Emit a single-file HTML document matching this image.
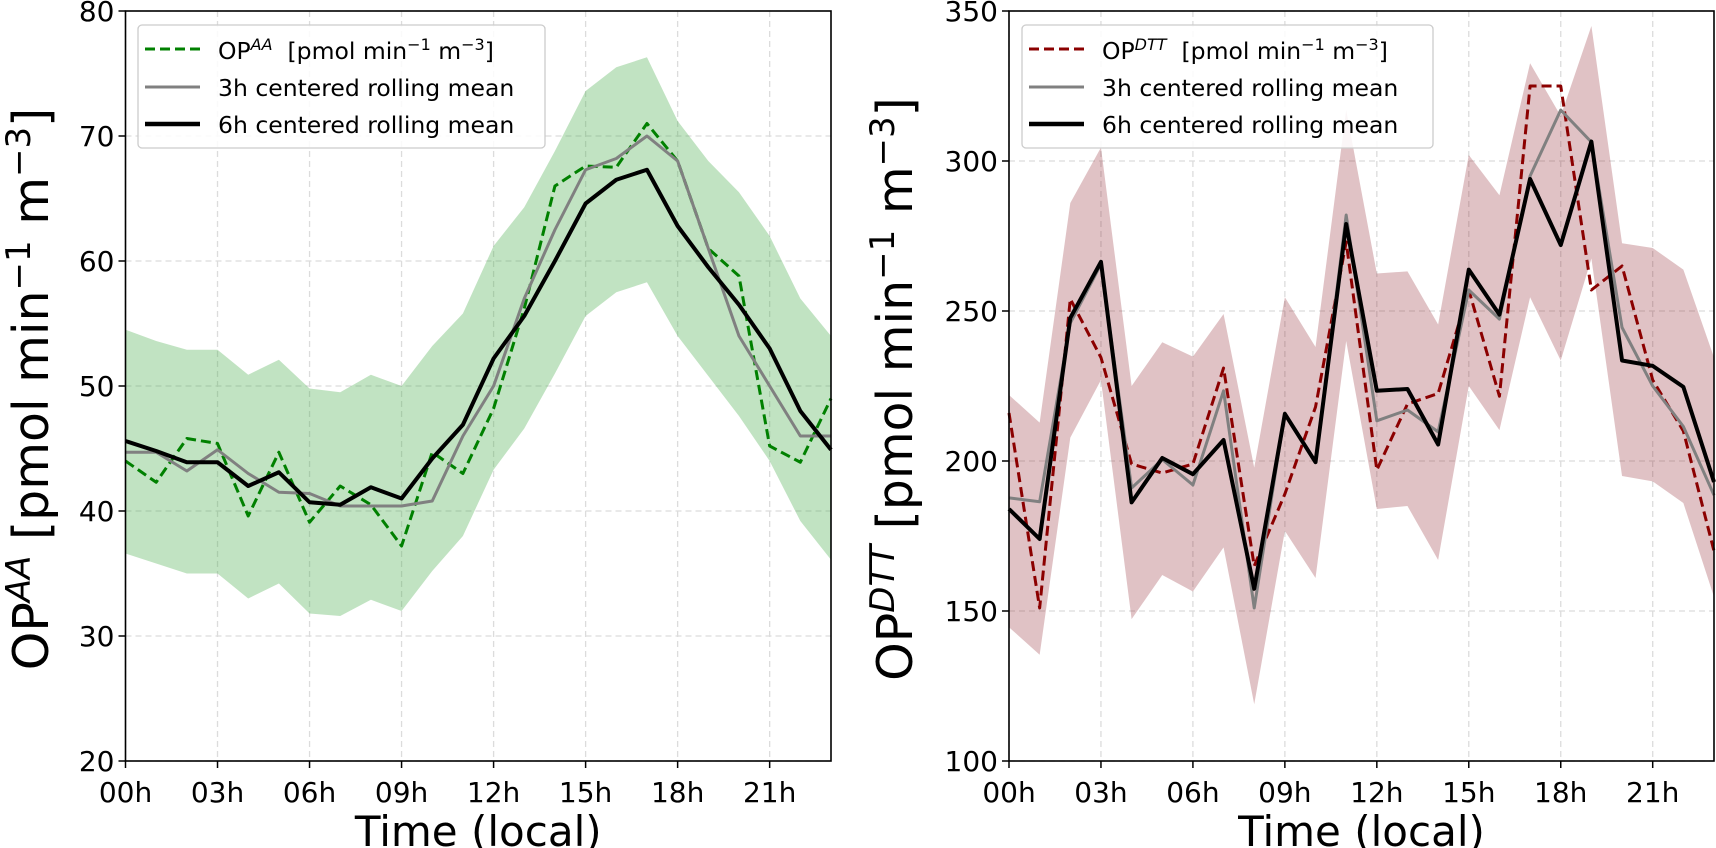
<!DOCTYPE html>
<html><head><meta charset="utf-8"><style>
body{margin:0;background:#fff}
svg{display:block;font-family:"DejaVu Sans","Liberation Sans",sans-serif}
</style></head><body>
<svg id="chart" width="1716" height="848" viewBox="0 0 1716 848" xmlns="http://www.w3.org/2000/svg"></svg>
<script>
const hours = [0,1,2,3,4,5,6,7,8,9,10,11,12,13,14,15,16,17,18,19,20,21,22,23];
const xTickHours = [0,3,6,9,12,15,18,21];
const xTickLabels = ["00h","03h","06h","09h","12h","15h","18h","21h"];
// Left panel (OP AA)
const aaTicks = [20,30,40,50,60,70,80];
const aaRaw = [44,42.3,45.8,45.4,39.6,44.7,39.1,42.0,40.5,37.2,44.7,43.0,48.2,56.2,66,67.6,67.5,71,68,61,58.8,45.2,43.9,49];
const aa3h = [44.7,44.7,43.2,44.9,43,41.5,41.4,40.4,40.4,40.4,40.8,46,50,57,62.5,67.3,68.2,70,68,61,54,50,46,46];
const aa6h = [45.6,44.8,43.9,43.9,42,43.1,40.7,40.5,41.9,41,44.2,46.9,52.2,55.6,60,64.6,66.5,67.3,62.8,59.5,56.5,53,48,44.9];
const aaUpper = [54.5,53.6,52.9,52.9,50.9,52.1,49.8,49.5,50.9,50,53.2,55.8,61.2,64.3,68.8,73.6,75.5,76.3,71.2,68,65.5,62,57,54];
const aaLower = [36.6,35.8,35,35,33,34.2,31.8,31.6,32.9,32,35.2,38,43.3,46.6,51,55.6,57.5,58.3,54,50.8,47.6,44,39.2,36.1];
// Right panel (OP DTT)
const dttTicks = [100,150,200,250,300,350];
const dttRaw = [216,151,254,234.5,199,196,199,231,165,189,218,273,197,219,222.5,257,221.6,325,325,257,265,227,210,170];
const dtt3h = [187.7,186.4,246,265.6,191,200.5,192,223.4,151,216,199.6,282,213.4,217,209.7,257,247.3,295,317,306.3,244.5,225,211.5,188.6];
const dtt6h = [184,174,247.7,266.4,186.2,201,195.6,207,157.4,215.7,199.6,279,223.4,224,205.5,263.8,248.8,294,272,306.5,233.5,231.7,224.7,193];
const dttUpper = [222,212.8,286,304.5,225,239.6,234.8,249,197.8,254.6,238,317,262.5,263.2,245.5,302,288.6,332.6,315,345,272.6,271,263.8,234.5];
const dttLower = [144.6,135.4,207.8,227,147.3,162,156.5,171.2,118.9,176.7,161,240,184,185,167,225,210.3,254.6,233.5,267.5,195,193.2,186,154.7];

const NS="http://www.w3.org/2000/svg";
const svg=document.getElementById('chart');
function mk(tag,attrs,parent){const e=document.createElementNS(NS,tag);for(const k in attrs)e.setAttribute(k,attrs[k]);(parent||svg).appendChild(e);return e;}

function panel(cfg){
  const g=mk('g',{});
  
  
  const L=cfg.left,R=cfg.right,T=11,B=761;
  const ymin=cfg.ticks[0],ymax=cfg.ticks[cfg.ticks.length-1];
  const xs=h=>L+(R-L)*h/23;
  const ys=v=>B-(B-T)*(v-ymin)/(ymax-ymin);
  xTickHours.forEach(h=>{const l=mk('line',{x1:xs(h),x2:xs(h),y1:T,y2:B,stroke:'#dcdcdc','stroke-width':1.3,'stroke-dasharray':'6 4'},g);
    
    });
  cfg.ticks.forEach(v=>{const l=mk('line',{x1:L,x2:R,y1:ys(v),y2:ys(v),stroke:'#dcdcdc','stroke-width':1.3,'stroke-dasharray':'6 4'},g);
    
    });
  let d='M'+hours.map((h,i)=>xs(h)+','+ys(cfg.upper[i])).join(' L');
  d+=' L'+hours.slice().reverse().map(h=>xs(h)+','+ys(cfg.lower[h])).join(' L')+'Z';
  const band=mk('path',{d:d,fill:cfg.band,stroke:'none'},g);
  
  
  const line=(arr,col,w,dash,name)=>{const p=mk('polyline',{points:hours.map((h,i)=>xs(h)+','+ys(arr[i])).join(' '),fill:'none',stroke:col,'stroke-width':w,'stroke-linejoin':'round'},g);
    if(dash)p.setAttribute('stroke-dasharray',dash);
    
    };
  line(cfg.raw,cfg.col,3,'10 5',cfg.rawName);
  line(cfg.m3,'#808080',3,null,'rolling-mean-3h');
  line(cfg.m6,'#000',4,null,'rolling-mean-6h');
  const fr=mk('rect',{x:L,y:T,width:R-L,height:B-T,fill:'none',stroke:'#000','stroke-width':1.6},g);
  
  
  xTickHours.forEach((h,i)=>{mk('line',{x1:xs(h),x2:xs(h),y1:B,y2:B+7,stroke:'#000','stroke-width':1.5},g);
    const t=mk('text',{x:xs(h),y:802,'font-size':28,'text-anchor':'middle'},g);t.textContent=xTickLabels[i];
    
    });
  cfg.ticks.forEach(v=>{mk('line',{x1:L-7,x2:L,y1:ys(v),y2:ys(v),stroke:'#000','stroke-width':1.5},g);
    const t=mk('text',{x:L-11,y:ys(v)+10,'font-size':28,'text-anchor':'end'},g);t.textContent=v;
    
    });
  const xt=mk('text',{x:(L+R)/2,y:846,'font-size':42,'text-anchor':'middle'},g);xt.textContent='Time (local)';
  
  
  const yt=mk('text',{x:0,y:0,'font-size':49,'text-anchor':'middle',transform:`translate(${cfg.ylx},${(T+B)/2+3}) rotate(-90)`},g);
  yt.innerHTML=`OP<tspan font-size="34" font-style="italic" dy="-18">${cfg.sup}</tspan><tspan dy="18"> [pmol min</tspan><tspan font-size="34" dy="-18">−1</tspan><tspan dy="18"> m</tspan><tspan font-size="34" dy="-18">−3</tspan><tspan dy="18">]</tspan>`;
  
  
  const lg=mk('g',{},g);
  
  
  const lx=cfg.legX;
  mk('rect',{x:lx,y:25,width:cfg.legW,height:123,rx:4,fill:'rgba(255,255,255,0.85)',stroke:'#ccc','stroke-width':1.3},lg);
  const rows=[[cfg.col,3,'10 5'],['#808080',3,null],['#000',4.5,null]];
  const ly=[49,87,124];
  rows.forEach((r,i)=>{const l=mk('line',{x1:lx+7,x2:lx+62,y1:ly[i],y2:ly[i],stroke:r[0],'stroke-width':r[1]},lg);if(r[2])l.setAttribute('stroke-dasharray',r[2]);
    
    });
  const t1=mk('text',{x:lx+80,y:59,'font-size':23.5},lg);
  t1.innerHTML=`OP<tspan font-size="16" font-style="italic" dy="-9">${cfg.sup}</tspan><tspan dy="9" xml:space="preserve">  [pmol min</tspan><tspan font-size="16" dy="-9">−1</tspan><tspan dy="9"> m</tspan><tspan font-size="16" dy="-9">−3</tspan><tspan dy="9">]</tspan>`;
  
  
  const t2=mk('text',{x:lx+80,y:96,'font-size':23.5},lg);t2.textContent='3h centered rolling mean';
  
  
  const t3=mk('text',{x:lx+80,y:133,'font-size':23.5},lg);t3.textContent='6h centered rolling mean';
  
  
}
panel({name:'op-aa-panel',left:125.5,right:831,ticks:aaTicks,raw:aaRaw,m3:aa3h,m6:aa6h,upper:aaUpper,lower:aaLower,col:'#008000',band:'rgba(76,175,80,0.35)',sup:'AA',ylx:48,legX:138,legW:407,rawName:'op-aa-series'});
panel({name:'op-dtt-panel',left:1009,right:1714,ticks:dttTicks,raw:dttRaw,m3:dtt3h,m6:dtt6h,upper:dttUpper,lower:dttLower,col:'#8b0000',band:'rgba(139,30,40,0.27)',sup:'DTT',ylx:912,legX:1022,legW:411,rawName:'op-dtt-series'});
</script>
</body></html>
